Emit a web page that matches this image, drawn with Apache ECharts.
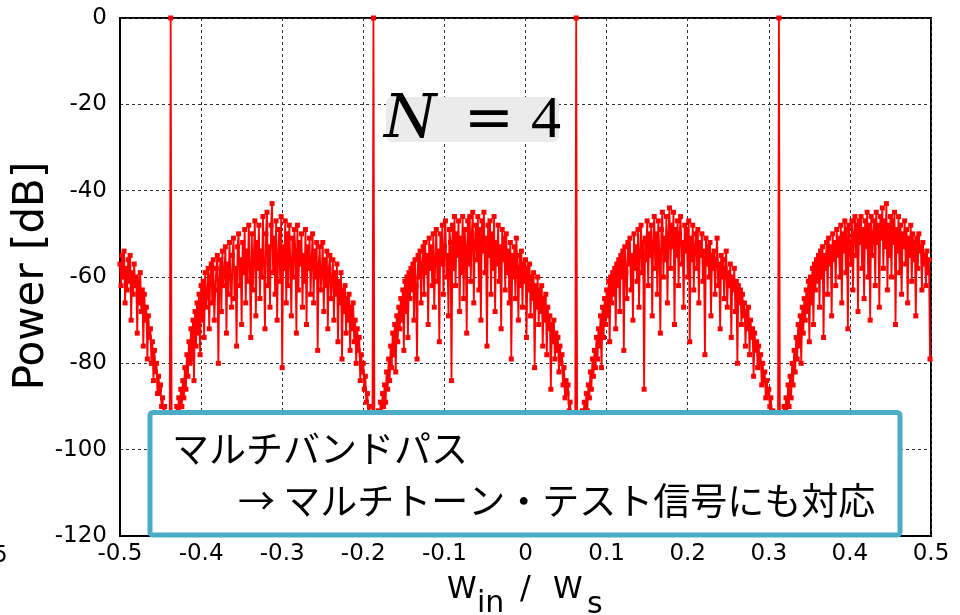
<!DOCTYPE html>
<html>
<head>
<meta charset="utf-8">
<script src="https://cdn.jsdelivr.net/npm/echarts@6/dist/echarts.min.js"></script>
<style>
html,body{margin:0;padding:0;background:#fff;}
#chart{width:960px;height:615px;}
</style>
</head>
<body>
<div id="chart"></div>
<script>
// Frequency bins (normalized W_in / W_s)
const binStart = -0.5;
const binWidth = 0.00125;

// Power spectrum [dB], one value per bin
const edgeSegment = [
 -57,-62,-55,-60,-54,-66,-58,-63,-56,-61,
 -55,-70,-59,-64,-57,-62,-60,-73,-61,-66,
 -59,-68,-63,-76,-64,-70,-67,-79,-69,-74,
 -72,-80,-75,-84,-77,-82,-80,-87,-83,-86,
 -85,-90,-88,-93,-90,-95,-92,-97,-95,-99];
const tone1 = [0];
const hump1 = [
 -99,-94,-97,-92,-96,-90,-94,-88,-92,-86,
 -90,-84,-88,-81,-86,-78,-83,-75,-80,-72,
 -79,-70,-84,-68,-76,-66,-73,-64,-78,-62,
 -70,-61,-74,-59,-67,-64,-58,-72,-60,-57,
 -66,-56,-70,-63,-58,-55,-80,-61,-56,-68,
 -54,-62,-59,-53,-73,-57,-64,-52,-60,-67,
 -55,-51,-65,-58,-76,-53,-50,-62,-56,-71,
 -52,-59,-49,-66,-54,-61,-48,-57,-74,-50,
 -63,-55,-47,-69,-52,-58,-48,-65,-54,-60,
 -46,-57,-72,-50,-45,-62,-53,-67,-48,-43,
 -59,-51,-64,-47,-70,-55,-49,-61,-46,-81,
 -53,-58,-47,-66,-50,-62,-48,-56,-69,-51,
 -60,-49,-54,-73,-48,-63,-52,-57,-50,-67,
 -55,-61,-49,-71,-53,-58,-51,-64,-56,-50,
 -66,-54,-60,-52,-77,-57,-53,-63,-59,-52,
 -68,-56,-62,-54,-72,-58,-55,-65,-61,-56,
 -70,-59,-64,-57,-75,-61,-66,-59,-79,-63,
 -68,-62,-73,-65,-70,-64,-77,-67,-72,-66,
 -75,-70,-80,-72,-77,-74,-84,-78,-82,-80,
 -86,-83,-89,-87,-92,-90,-95,-93,-98];
const tone2 = [0];
const hump2 = [
 -97,-100,-93,-96,-91,-95,-89,-93,-87,-90,
 -85,-89,-82,-86,-79,-84,-76,-81,-73,-78,
 -71,-82,-69,-75,-67,-72,-65,-70,-63,-77,
 -61,-68,-60,-74,-59,-65,-58,-63,-57,-70,
 -56,-62,-79,-55,-60,-54,-66,-57,-53,-64,
 -52,-59,-55,-71,-51,-58,-53,-62,-50,-67,
 -56,-49,-61,-54,-75,-50,-57,-48,-64,-53,
 -47,-60,-55,-69,-49,-52,-84,-48,-58,-46,
 -62,-50,-55,-47,-68,-51,-59,-46,-65,-49,
 -53,-73,-47,-57,-46,-61,-50,-45,-66,-52,
 -48,-56,-46,-63,-49,-70,-47,-54,-45,-59,
 -51,-76,-48,-55,-47,-64,-50,-58,-46,-68,
 -52,-57,-48,-61,-53,-72,-49,-56,-51,-63,
 -50,-59,-54,-66,-52,-79,-55,-60,-53,-65,
 -51,-58,-70,-55,-62,-54,-67,-57,-61,-56,
 -74,-58,-63,-57,-69,-60,-65,-59,-81,-62,
 -67,-60,-71,-63,-68,-62,-76,-65,-70,-64,
 -78,-67,-72,-69,-86,-71,-75,-70,-79,-73,
 -77,-74,-82,-76,-80,-78,-85,-81,-88,-84,
 -87,-85,-91,-89,-94,-92,-97,-95,-99];
const tone3 = [0];
const hump3 = [
 -98,-95,-99,-93,-97,-91,-94,-89,-92,-87,
 -91,-85,-88,-82,-86,-79,-83,-77,-81,-74,
 -79,-72,-76,-69,-81,-67,-74,-65,-71,-63,
 -69,-61,-75,-60,-66,-59,-64,-58,-72,-57,
 -62,-56,-68,-55,-60,-54,-77,-53,-59,-65,
 -52,-57,-51,-63,-55,-70,-50,-58,-53,-61,
 -49,-67,-54,-48,-59,-52,-86,-51,-56,-47,
 -62,-50,-55,-48,-69,-52,-46,-58,-50,-64,
 -47,-54,-73,-49,-45,-60,-51,-56,-46,-66,
 -50,-44,-58,-48,-53,-45,-71,-49,-55,-47,
 -62,-50,-46,-57,-52,-67,-48,-54,-49,-60,
 -47,-75,-51,-56,-48,-63,-53,-50,-58,-49,
 -66,-52,-55,-50,-61,-54,-78,-51,-57,-53,
 -60,-52,-69,-55,-58,-54,-64,-56,-51,-62,
 -57,-72,-55,-60,-56,-65,-58,-54,-67,-59,
 -62,-57,-74,-60,-63,-58,-68,-61,-80,-62,
 -66,-63,-71,-64,-69,-66,-76,-68,-72,-67,
 -78,-70,-74,-72,-83,-73,-77,-75,-81,-76,
 -80,-78,-85,-80,-84,-82,-88,-84,-87,-86,
 -90,-88,-93,-91,-95,-93,-97,-96,-99];
const tone4 = [0];
const hump4 = [
 -96,-99,-93,-97,-90,-94,-88,-92,-85,-90,
 -83,-88,-80,-85,-77,-82,-74,-79,-71,-76,
 -69,-80,-67,-73,-65,-70,-63,-68,-61,-75,
 -60,-66,-58,-71,-57,-63,-56,-61,-55,-67,
 -54,-60,-53,-74,-55,-58,-52,-64,-51,-57,
 -53,-69,-50,-56,-52,-62,-49,-55,-51,-60,
 -48,-66,-50,-54,-47,-59,-49,-72,-48,-53,
 -57,-47,-63,-50,-46,-55,-48,-68,-47,-52,
 -46,-58,-49,-65,-47,-53,-45,-60,-48,-70,
 -46,-55,-50,-47,-62,-45,-52,-48,-67,-46,
 -51,-44,-58,-47,-53,-43,-63,-48,-55,-46,
 -60,-47,-52,-45,-71,-49,-54,-46,-59,-48,
 -64,-50,-53,-47,-57,-49,-66,-51,-55,-48,
 -61,-50,-56,-52,-69,-51,-58,-50,-54,-53,
 -63,-52,-57,-55,-62,-54,-59,-56,-79];

const powerDb = [].concat(edgeSegment, tone1, hump1, tone2, hump2, tone3, hump3, tone4, hump4);

// Axis ticks
const yTicks = [0, -20, -40, -60, -80, -100, -120];
const xTicks = [-0.5, -0.4, -0.3, -0.2, -0.1, 0, 0.1, 0.2, 0.3, 0.4, 0.5];

const seriesData = powerDb.map((v, i) => [binStart + i * binWidth, v]);

const chart = echarts.init(document.getElementById('chart'), null, {renderer: 'canvas'});
const tickFont = 'DejaVu Sans';
const jp = '"Noto Sans CJK JP"';

chart.setOption({
  animation: false,
  backgroundColor: '#fff',
  grid: {left: 120, right: 29, top: 18, bottom: 79, show: true, borderColor: '#000', borderWidth: 2, backgroundColor: 'transparent'},
  xAxis: {
    type: 'value',
    min: xTicks[0], max: xTicks[xTicks.length - 1], interval: 0.1,
    axisLine: {show: true, onZero: false, lineStyle: {color: '#000', width: 2}},
    axisTick: {show: false},
    axisLabel: {
      color: '#000', fontFamily: tickFont, fontSize: 23, margin: 7,
      formatter: v => (Math.abs(v) < 1e-9 ? '0' : v.toFixed(1))
    },
    splitLine: {show: true, lineStyle: {color: '#333', type: [3, 3], width: 1}}
  },
  yAxis: {
    type: 'value',
    min: yTicks[yTicks.length - 1], max: yTicks[0], interval: 20,
    axisLine: {show: true, onZero: false, lineStyle: {color: '#000', width: 2}},
    axisTick: {show: false},
    axisLabel: {color: '#000', fontFamily: tickFont, fontSize: 23, margin: 13},
    splitLine: {show: true, lineStyle: {color: '#333', type: [3, 3], width: 1}}
  },
  series: [{
    type: 'line',
    data: seriesData,
    symbol: 'rect',
    symbolSize: 5,
    showSymbol: true,
    showAllSymbol: true,
    sampling: 'none',
    color: '#ff0000',
    itemStyle: {color: '#ff0000'},
    lineStyle: {color: '#ff0000', width: 1.8},
    emphasis: {disabled: true},
    z: 3
  }],
  graphic: [
    // y axis name
    {type: 'text', x: 32, y: 276, rotation: Math.PI / 2, z: 50,
     style: {text: 'Power [dB]', fill: '#000', font: '42px "DejaVu Sans"', align: 'center', verticalAlign: 'middle'}},
    // x axis name  W_in / W_s
    {type: 'text', x: 447, y: 605, z: 50, style: {text: 'W', fill: '#000', font: '30px "DejaVu Sans"', align: 'left', verticalAlign: 'bottom'}},
    {type: 'text', x: 477, y: 619, z: 50, style: {text: 'in', fill: '#000', font: '30px "DejaVu Sans"', align: 'left', verticalAlign: 'bottom'}},
    {type: 'text', x: 520, y: 606, z: 50, style: {text: '/', fill: '#000', font: '32px "DejaVu Sans"', align: 'left', verticalAlign: 'bottom'}},
    {type: 'text', x: 553, y: 605, z: 50, style: {text: 'W', fill: '#000', font: '30px "DejaVu Sans"', align: 'left', verticalAlign: 'bottom'}},
    {type: 'text', x: 587, y: 620, z: 50, style: {text: 's', fill: '#000', font: '30px "DejaVu Sans"', align: 'left', verticalAlign: 'bottom'}},
    // clipped stray label at far left
    {type: 'text', x: -7, y: 556, z: 50, style: {text: '5', fill: '#000', font: '23px "DejaVu Sans"', align: 'left', verticalAlign: 'middle'}},
    // N = 4 label
    {type: 'rect', z: 60, shape: {x: 386, y: 97, width: 173, height: 45, r: 6}, style: {fill: '#ebebeb'}},
    {type: 'text', x: 384, y: 121, z: 61, style: {text: 'N', fill: '#000', font: 'italic 60px "DejaVu Serif"', align: 'left', verticalAlign: 'middle'}},
    {type: 'text', x: 489, y: 121, z: 61, style: {text: '=', fill: '#000', font: '60px "DejaVu Serif"', align: 'center', verticalAlign: 'middle'}},
    {type: 'text', x: 546, y: 121, z: 61, style: {text: '4', fill: '#000', font: '60px "Liberation Serif"', align: 'center', verticalAlign: 'middle'}},
    // annotation box
    {type: 'rect', z: 70, shape: {x: 150, y: 412.5, width: 750, height: 122.5, r: 3},
     style: {fill: '#fff', stroke: '#4bacc6', lineWidth: 5}},
    {type: 'text', x: 172, y: 449, z: 71, style: {text: 'マルチバンドパス', fill: '#000', font: '37px ' + jp, align: 'left', verticalAlign: 'middle'}},
    {type: 'text', x: 238, y: 501, z: 71, style: {text: '→ マルチトーン・テスト信号にも対応', fill: '#000', font: '37px ' + jp, align: 'left', verticalAlign: 'middle'}}
  ]
});
</script>
</body>
</html>
